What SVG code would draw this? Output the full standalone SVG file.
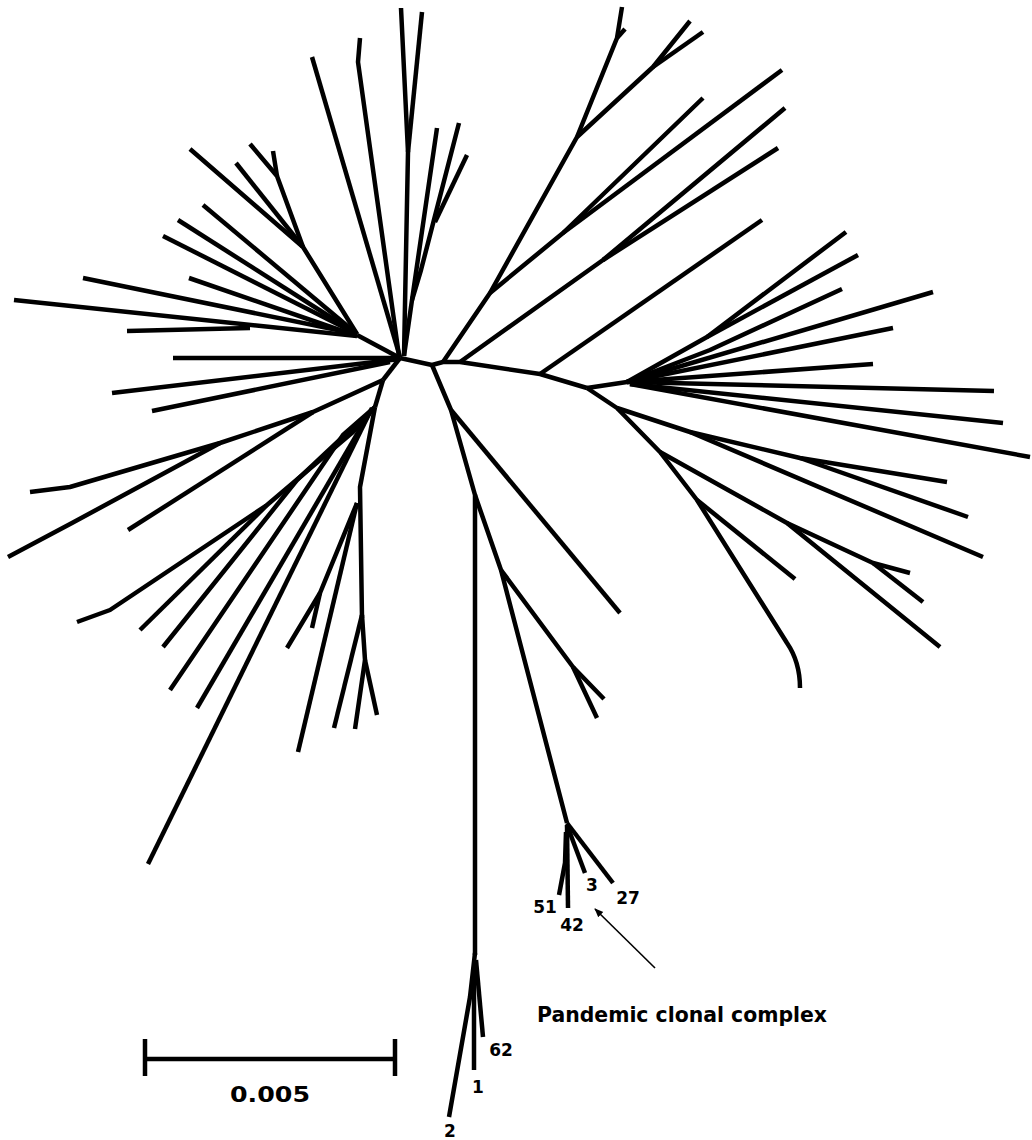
<svg xmlns="http://www.w3.org/2000/svg" width="1032" height="1140" viewBox="0 0 1032 1140">
<style>
.b{fill:none;stroke:#000;stroke-width:4.5;stroke-linejoin:round;stroke-linecap:butt}
.lab{font-family:"DejaVu Sans","Liberation Sans",sans-serif;font-weight:bold;fill:#000}
.num{font-size:17px;text-anchor:middle}
.arr{stroke:#000;stroke-width:1.6;fill:none}
</style>
<defs>
<marker id="ah" viewBox="0 0 10 10" refX="9" refY="5" markerWidth="9" markerHeight="9" markerUnits="userSpaceOnUse" orient="auto">
<path d="M0,1 L10,5 L0,9 z" fill="#000"/>
</marker>
</defs>
<rect width="1032" height="1140" fill="#fff"/>
<g id="tree">
<!-- top centre -->
<polyline class="b" points="401,8 408,152 404,356"/>
<polyline class="b" points="422,12 408,152"/>
<polyline class="b" points="360,38 358,62 399,356"/>
<polyline class="b" points="312,57 400,357"/>
<polyline class="b" points="437,128 412,300 404,356"/>
<polyline class="b" points="459,123 421,270 412,300"/>
<polyline class="b" points="467,155 435,222"/>
<!-- top left -->
<polyline class="b" points="190,149 303,247 357,334"/>
<polyline class="b" points="250,144 277,176 303,247"/>
<polyline class="b" points="273,151 277,176"/>
<polyline class="b" points="236,163 303,247"/>
<polyline class="b" points="203,205 357,334"/>
<polyline class="b" points="178,220 357,334"/>
<polyline class="b" points="163,236 357,334"/>
<polyline class="b" points="83,278 357,334"/>
<polyline class="b" points="14,300 357,336"/>
<polyline class="b" points="127,331 250,328"/>
<polyline class="b" points="189,278 357,336"/>
<polyline class="b" points="357,335 400,358"/>
<polyline class="b" points="173,358 400,358"/>
<!-- left middle -->
<polyline class="b" points="112,393 400,359"/>
<polyline class="b" points="152,411 390,362"/>
<polyline class="b" points="400,358 383,380"/>
<polyline class="b" points="30,492 70,487 220,443 313,412 383,380"/>
<polyline class="b" points="8,557 72,523 220,443"/>
<polyline class="b" points="128,530 313,412"/>
<polyline class="b" points="383,380 375,407"/>
<polyline class="b" points="77,622 110,610 267,505 353,432 375,407"/>
<polyline class="b" points="140,630 267,505"/>
<polyline class="b" points="163,647 297,480 363,418"/>
<polyline class="b" points="170,690 343,435 375,407"/>
<polyline class="b" points="197,708 370,412"/>
<polyline class="b" points="148,864 372,408"/>
<polyline class="b" points="375,407 360,487 362,618"/>
<polyline class="b" points="287,648 320,593 357,503"/>
<polyline class="b" points="312,628 320,593"/>
<polyline class="b" points="298,752 357,503"/>
<polyline class="b" points="362,615 334,728"/>
<polyline class="b" points="362,615 365,660 355,729"/>
<polyline class="b" points="365,660 377,715"/>
<!-- backbone -->
<polyline class="b" points="400,358 432,365 443,362 460,362 540,374 587,388"/>
<!-- top right -->
<polyline class="b" points="443,362 490,293 577,137 617,38 622,7"/>
<polyline class="b" points="617,38 625,29"/>
<polyline class="b" points="577,137 653,67 690,21"/>
<polyline class="b" points="653,67 703,32"/>
<polyline class="b" points="490,293 563,233 703,98"/>
<polyline class="b" points="563,233 782,70"/>
<polyline class="b" points="460,362 603,260 785,108"/>
<polyline class="b" points="603,260 778,148"/>
<polyline class="b" points="540,374 762,220"/>
<!-- right fan -->
<polyline class="b" points="587,388 627,382"/>
<polyline class="b" points="627,382 707,337 846,232"/>
<polyline class="b" points="707,337 858,255"/>
<polyline class="b" points="627,382 710,350 842,289"/>
<polyline class="b" points="627,382 933,292"/>
<polyline class="b" points="627,382 893,328"/>
<polyline class="b" points="627,382 873,364"/>
<polyline class="b" points="627,382 994,391"/>
<polyline class="b" points="630,384 1003,423"/>
<polyline class="b" points="630,384 1030,457"/>
<!-- lower right -->
<path class="b" d="M587,388 L617,408 L660,452 L697,500 L787,643 Q800,662 800,688"/>
<polyline class="b" points="697,500 795,579"/>
<polyline class="b" points="660,452 787,523 940,647"/>
<polyline class="b" points="787,523 873,563 910,573"/>
<polyline class="b" points="873,563 923,602"/>
<polyline class="b" points="617,408 690,432 983,557"/>
<polyline class="b" points="690,432 800,458 947,482"/>
<polyline class="b" points="800,458 968,517"/>
<!-- pandemic side -->
<polyline class="b" points="432,365 451,410 475,495 475,955"/>
<polyline class="b" points="451,410 620,613"/>
<polyline class="b" points="475,495 501,570 567,823"/>
<polyline class="b" points="501,570 573,667 604,699"/>
<polyline class="b" points="573,667 597,718"/>
<polyline class="b" points="567,823 613,883"/>
<polyline class="b" points="567,825 585,873"/>
<polyline class="b" points="567,825 568,908"/>
<polyline class="b" points="566,832 565,863 559,895"/>
<!-- bottom fork -->
<polyline class="b" points="475,953 470,997 449,1117"/>
<polyline class="b" points="474,970 474,1070"/>
<polyline class="b" points="476,960 483,1037"/>
</g>
<g id="labels">
<text class="lab num" x="592" y="891">3</text>
<text class="lab num" x="628" y="904">27</text>
<text class="lab num" x="545" y="913">51</text>
<text class="lab num" x="572" y="931">42</text>
<text class="lab num" x="501" y="1056">62</text>
<text class="lab num" x="478" y="1093">1</text>
<text class="lab num" x="450" y="1137">2</text>
<text class="lab" x="537" y="1022" font-size="21" textLength="290" lengthAdjust="spacingAndGlyphs">Pandemic clonal complex</text>
</g>
<g id="connectors">
<line class="arr" x1="655" y1="968" x2="595" y2="909" marker-end="url(#ah)"/>
</g>
<g id="scale">
<line class="b" x1="143" y1="1059" x2="397" y2="1059"/>
<line class="b" x1="145" y1="1039" x2="145" y2="1076"/>
<line class="b" x1="395" y1="1039" x2="395" y2="1076"/>
<text class="lab" x="270" y="1102" font-size="21" text-anchor="middle" textLength="80" lengthAdjust="spacingAndGlyphs">0.005</text>
</g>
</svg>
